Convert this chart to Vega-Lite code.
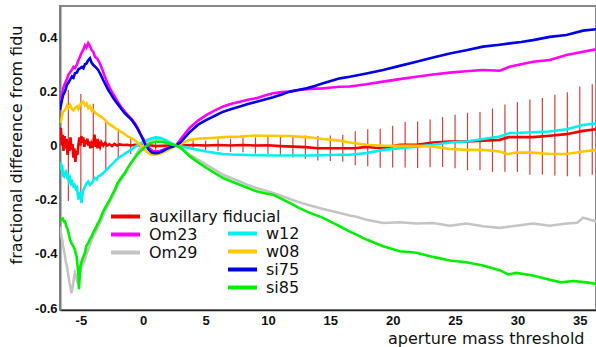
{
  "$schema": "https://vega.github.io/schema/vega-lite/v6.json",
  "width": 536,
  "height": 304,
  "autosize": {"type": "none"},
  "padding": {"left": 60, "top": 6, "right": 0, "bottom": 37},
  "background": "white",
  "config": {
    "view": {"stroke": "#888888", "strokeWidth": 2},
    "axis": {"grid": false, "labelFont": "Liberation Sans", "labelFontWeight": "bold", "labelFontSize": 13, "labelColor": "#111", "titleFont": "DejaVu Sans", "titleFontWeight": "normal", "titleFontSize": 16, "titleColor": "#111"},
    "legend": {"orient": "none", "title": null, "symbolType": "M-2,0H2", "symbolSize": 210, "symbolStrokeWidth": 4, "labelFont": "DejaVu Sans", "labelFontSize": 16, "labelColor": "#111", "labelOffset": 14, "rowPadding": 0, "padding": 0, "labelLimit": 400}
  },
  "datasets": {
    "curves": [
      {"series": "auxillary fiducial", "x": -6.67, "y": 0.02},
      {"series": "auxillary fiducial", "x": -6.6, "y": 0.065},
      {"series": "auxillary fiducial", "x": -6.53, "y": 0.0},
      {"series": "auxillary fiducial", "x": -6.45, "y": 0.04},
      {"series": "auxillary fiducial", "x": -6.39, "y": -0.02},
      {"series": "auxillary fiducial", "x": -6.3, "y": 0.035},
      {"series": "auxillary fiducial", "x": -6.22, "y": -0.01},
      {"series": "auxillary fiducial", "x": -6.14, "y": 0.025},
      {"series": "auxillary fiducial", "x": -6.06, "y": -0.035},
      {"series": "auxillary fiducial", "x": -5.99, "y": 0.015},
      {"series": "auxillary fiducial", "x": -5.91, "y": -0.02},
      {"series": "auxillary fiducial", "x": -5.83, "y": 0.03},
      {"series": "auxillary fiducial", "x": -5.75, "y": -0.015},
      {"series": "auxillary fiducial", "x": -5.67, "y": 0.005},
      {"series": "auxillary fiducial", "x": -5.6, "y": -0.045},
      {"series": "auxillary fiducial", "x": -5.52, "y": -0.01},
      {"series": "auxillary fiducial", "x": -5.44, "y": -0.06},
      {"series": "auxillary fiducial", "x": -5.36, "y": -0.02},
      {"series": "auxillary fiducial", "x": -5.28, "y": -0.035},
      {"series": "auxillary fiducial", "x": -5.2, "y": 0.0},
      {"series": "auxillary fiducial", "x": -5.12, "y": 0.03},
      {"series": "auxillary fiducial", "x": -5.04, "y": 0.0},
      {"series": "auxillary fiducial", "x": -4.96, "y": 0.035},
      {"series": "auxillary fiducial", "x": -4.88, "y": 0.01},
      {"series": "auxillary fiducial", "x": -4.8, "y": 0.03},
      {"series": "auxillary fiducial", "x": -4.72, "y": -0.005},
      {"series": "auxillary fiducial", "x": -4.64, "y": 0.02},
      {"series": "auxillary fiducial", "x": -4.56, "y": 0.005},
      {"series": "auxillary fiducial", "x": -4.48, "y": 0.025},
      {"series": "auxillary fiducial", "x": -4.4, "y": 0.0},
      {"series": "auxillary fiducial", "x": -4.32, "y": 0.015},
      {"series": "auxillary fiducial", "x": -4.24, "y": -0.01},
      {"series": "auxillary fiducial", "x": -4.16, "y": 0.005},
      {"series": "auxillary fiducial", "x": -4.08, "y": -0.008},
      {"series": "auxillary fiducial", "x": -4.0, "y": 0.01},
      {"series": "auxillary fiducial", "x": -3.9, "y": 0.04},
      {"series": "auxillary fiducial", "x": -3.82, "y": -0.005},
      {"series": "auxillary fiducial", "x": -3.74, "y": 0.025},
      {"series": "auxillary fiducial", "x": -3.66, "y": -0.01},
      {"series": "auxillary fiducial", "x": -3.56, "y": 0.01},
      {"series": "auxillary fiducial", "x": -3.46, "y": -0.005},
      {"series": "auxillary fiducial", "x": -3.36, "y": 0.012},
      {"series": "auxillary fiducial", "x": -3.2, "y": 0.0},
      {"series": "auxillary fiducial", "x": -3.05, "y": 0.01},
      {"series": "auxillary fiducial", "x": -2.9, "y": 0.0},
      {"series": "auxillary fiducial", "x": -2.7, "y": 0.005},
      {"series": "auxillary fiducial", "x": -2.5, "y": -0.002},
      {"series": "auxillary fiducial", "x": -2.3, "y": 0.006},
      {"series": "auxillary fiducial", "x": -2.1, "y": 0.0},
      {"series": "auxillary fiducial", "x": -1.9, "y": 0.004},
      {"series": "auxillary fiducial", "x": -1.6, "y": 0.002},
      {"series": "auxillary fiducial", "x": -1.3, "y": 0.003},
      {"series": "auxillary fiducial", "x": -1.0, "y": 0.0},
      {"series": "auxillary fiducial", "x": -0.6, "y": 0.003},
      {"series": "auxillary fiducial", "x": -0.2, "y": 0.0},
      {"series": "auxillary fiducial", "x": 0.4, "y": 0.002},
      {"series": "auxillary fiducial", "x": 1.0, "y": -0.002},
      {"series": "auxillary fiducial", "x": 2.0, "y": 0.0},
      {"series": "auxillary fiducial", "x": 3.0, "y": 0.0},
      {"series": "auxillary fiducial", "x": 4.0, "y": 0.002},
      {"series": "auxillary fiducial", "x": 5.0, "y": 0.0},
      {"series": "auxillary fiducial", "x": 6.0, "y": 0.002},
      {"series": "auxillary fiducial", "x": 7.0, "y": 0.0},
      {"series": "auxillary fiducial", "x": 8.0, "y": 0.002},
      {"series": "auxillary fiducial", "x": 9.0, "y": 0.0},
      {"series": "auxillary fiducial", "x": 10.0, "y": 0.001},
      {"series": "auxillary fiducial", "x": 11.0, "y": -0.002},
      {"series": "auxillary fiducial", "x": 12.0, "y": -0.004},
      {"series": "auxillary fiducial", "x": 13.0, "y": -0.006},
      {"series": "auxillary fiducial", "x": 14.0, "y": -0.01},
      {"series": "auxillary fiducial", "x": 15.0, "y": -0.01},
      {"series": "auxillary fiducial", "x": 16.0, "y": -0.01},
      {"series": "auxillary fiducial", "x": 17.0, "y": -0.01},
      {"series": "auxillary fiducial", "x": 17.9, "y": -0.005},
      {"series": "auxillary fiducial", "x": 18.6, "y": -0.008},
      {"series": "auxillary fiducial", "x": 19.23, "y": -0.01},
      {"series": "auxillary fiducial", "x": 20.0, "y": -0.002},
      {"series": "auxillary fiducial", "x": 20.56, "y": 0.003},
      {"series": "auxillary fiducial", "x": 21.9, "y": 0.003},
      {"series": "auxillary fiducial", "x": 23.24, "y": 0.011},
      {"series": "auxillary fiducial", "x": 24.58, "y": 0.015},
      {"series": "auxillary fiducial", "x": 25.9, "y": 0.015},
      {"series": "auxillary fiducial", "x": 27.24, "y": 0.018},
      {"series": "auxillary fiducial", "x": 28.58, "y": 0.021},
      {"series": "auxillary fiducial", "x": 29.3, "y": 0.031},
      {"series": "auxillary fiducial", "x": 29.9, "y": 0.031},
      {"series": "auxillary fiducial", "x": 31.25, "y": 0.031},
      {"series": "auxillary fiducial", "x": 32.59, "y": 0.036},
      {"series": "auxillary fiducial", "x": 33.93, "y": 0.042},
      {"series": "auxillary fiducial", "x": 35.26, "y": 0.054},
      {"series": "auxillary fiducial", "x": 36.3, "y": 0.06},

      {"series": "Om23", "x": -6.67, "y": 0.162},
      {"series": "Om23", "x": -6.51, "y": 0.19},
      {"series": "Om23", "x": -6.39, "y": 0.215},
      {"series": "Om23", "x": -6.27, "y": 0.23},
      {"series": "Om23", "x": -6.11, "y": 0.245},
      {"series": "Om23", "x": -5.99, "y": 0.262},
      {"series": "Om23", "x": -5.87, "y": 0.27},
      {"series": "Om23", "x": -5.71, "y": 0.28},
      {"series": "Om23", "x": -5.59, "y": 0.29},
      {"series": "Om23", "x": -5.47, "y": 0.286},
      {"series": "Om23", "x": -5.31, "y": 0.3},
      {"series": "Om23", "x": -5.19, "y": 0.315},
      {"series": "Om23", "x": -5.07, "y": 0.328},
      {"series": "Om23", "x": -4.91, "y": 0.345},
      {"series": "Om23", "x": -4.79, "y": 0.355},
      {"series": "Om23", "x": -4.67, "y": 0.37},
      {"series": "Om23", "x": -4.55, "y": 0.362},
      {"series": "Om23", "x": -4.41, "y": 0.378},
      {"series": "Om23", "x": -4.27, "y": 0.368},
      {"series": "Om23", "x": -4.13, "y": 0.352},
      {"series": "Om23", "x": -3.99, "y": 0.345},
      {"series": "Om23", "x": -3.87, "y": 0.328},
      {"series": "Om23", "x": -3.67, "y": 0.32},
      {"series": "Om23", "x": -3.47, "y": 0.303},
      {"series": "Om23", "x": -3.27, "y": 0.28},
      {"series": "Om23", "x": -3.07, "y": 0.254},
      {"series": "Om23", "x": -2.87, "y": 0.232},
      {"series": "Om23", "x": -2.67, "y": 0.211},
      {"series": "Om23", "x": -2.47, "y": 0.195},
      {"series": "Om23", "x": -2.27, "y": 0.18},
      {"series": "Om23", "x": -2.07, "y": 0.163},
      {"series": "Om23", "x": -1.87, "y": 0.15},
      {"series": "Om23", "x": -1.67, "y": 0.136},
      {"series": "Om23", "x": -1.47, "y": 0.125},
      {"series": "Om23", "x": -1.27, "y": 0.114},
      {"series": "Om23", "x": -1.07, "y": 0.105},
      {"series": "Om23", "x": -0.87, "y": 0.094},
      {"series": "Om23", "x": -0.67, "y": 0.082},
      {"series": "Om23", "x": -0.46, "y": 0.066},
      {"series": "Om23", "x": -0.26, "y": 0.046},
      {"series": "Om23", "x": -0.06, "y": 0.03},
      {"series": "Om23", "x": 0.14, "y": 0.015},
      {"series": "Om23", "x": 0.34, "y": 0.0},
      {"series": "Om23", "x": 0.54, "y": -0.012},
      {"series": "Om23", "x": 0.78, "y": -0.02},
      {"series": "Om23", "x": 1.02, "y": -0.022},
      {"series": "Om23", "x": 1.34, "y": -0.02},
      {"series": "Om23", "x": 1.74, "y": -0.013},
      {"series": "Om23", "x": 2.14, "y": -0.006},
      {"series": "Om23", "x": 2.62, "y": 0.0},
      {"series": "Om23", "x": 3.2, "y": 0.035},
      {"series": "Om23", "x": 3.74, "y": 0.066},
      {"series": "Om23", "x": 4.4, "y": 0.092},
      {"series": "Om23", "x": 5.08, "y": 0.113},
      {"series": "Om23", "x": 5.75, "y": 0.13},
      {"series": "Om23", "x": 6.41, "y": 0.144},
      {"series": "Om23", "x": 7.08, "y": 0.154},
      {"series": "Om23", "x": 7.75, "y": 0.162},
      {"series": "Om23", "x": 8.4, "y": 0.169},
      {"series": "Om23", "x": 9.09, "y": 0.175},
      {"series": "Om23", "x": 9.75, "y": 0.185},
      {"series": "Om23", "x": 10.42, "y": 0.193},
      {"series": "Om23", "x": 11.1, "y": 0.197},
      {"series": "Om23", "x": 11.75, "y": 0.199},
      {"series": "Om23", "x": 12.4, "y": 0.204},
      {"series": "Om23", "x": 13.09, "y": 0.208},
      {"series": "Om23", "x": 13.75, "y": 0.21},
      {"series": "Om23", "x": 14.42, "y": 0.211},
      {"series": "Om23", "x": 15.1, "y": 0.214},
      {"series": "Om23", "x": 15.76, "y": 0.217},
      {"series": "Om23", "x": 16.56, "y": 0.218},
      {"series": "Om23", "x": 17.9, "y": 0.226},
      {"series": "Om23", "x": 19.23, "y": 0.236},
      {"series": "Om23", "x": 20.56, "y": 0.245},
      {"series": "Om23", "x": 21.9, "y": 0.254},
      {"series": "Om23", "x": 23.24, "y": 0.262},
      {"series": "Om23", "x": 24.58, "y": 0.269},
      {"series": "Om23", "x": 25.9, "y": 0.274},
      {"series": "Om23", "x": 27.24, "y": 0.279},
      {"series": "Om23", "x": 28.58, "y": 0.276},
      {"series": "Om23", "x": 29.38, "y": 0.291},
      {"series": "Om23", "x": 30.3, "y": 0.3},
      {"series": "Om23", "x": 31.25, "y": 0.309},
      {"series": "Om23", "x": 32.59, "y": 0.316},
      {"series": "Om23", "x": 33.93, "y": 0.334},
      {"series": "Om23", "x": 35.26, "y": 0.346},
      {"series": "Om23", "x": 36.3, "y": 0.355},

      {"series": "Om29", "x": -6.67, "y": -0.3},
      {"series": "Om29", "x": -6.6, "y": -0.32},
      {"series": "Om29", "x": -6.55, "y": -0.335},
      {"series": "Om29", "x": -6.45, "y": -0.36},
      {"series": "Om29", "x": -6.37, "y": -0.384},
      {"series": "Om29", "x": -6.3, "y": -0.4},
      {"series": "Om29", "x": -6.2, "y": -0.43},
      {"series": "Om29", "x": -6.11, "y": -0.446},
      {"series": "Om29", "x": -6.0, "y": -0.48},
      {"series": "Om29", "x": -5.9, "y": -0.507},
      {"series": "Om29", "x": -5.8, "y": -0.53},
      {"series": "Om29", "x": -5.75, "y": -0.545},
      {"series": "Om29", "x": -5.65, "y": -0.52},
      {"series": "Om29", "x": -5.55, "y": -0.49},
      {"series": "Om29", "x": -5.47, "y": -0.47},
      {"series": "Om29", "x": -5.38, "y": -0.48},
      {"series": "Om29", "x": -5.3, "y": -0.5},
      {"series": "Om29", "x": -5.2, "y": -0.51},
      {"series": "Om29", "x": -5.1, "y": -0.48},
      {"series": "Om29", "x": -5.0, "y": -0.458},
      {"series": "Om29", "x": -4.9, "y": -0.445},
      {"series": "Om29", "x": -4.8, "y": -0.435},
      {"series": "Om29", "x": -4.67, "y": -0.421},
      {"series": "Om29", "x": -4.55, "y": -0.4},
      {"series": "Om29", "x": -4.41, "y": -0.384},
      {"series": "Om29", "x": -4.27, "y": -0.365},
      {"series": "Om29", "x": -4.13, "y": -0.347},
      {"series": "Om29", "x": -4.0, "y": -0.335},
      {"series": "Om29", "x": -3.87, "y": -0.323},
      {"series": "Om29", "x": -3.67, "y": -0.305},
      {"series": "Om29", "x": -3.47, "y": -0.286},
      {"series": "Om29", "x": -3.27, "y": -0.265},
      {"series": "Om29", "x": -3.07, "y": -0.243},
      {"series": "Om29", "x": -2.87, "y": -0.225},
      {"series": "Om29", "x": -2.67, "y": -0.206},
      {"series": "Om29", "x": -2.47, "y": -0.19},
      {"series": "Om29", "x": -2.27, "y": -0.169},
      {"series": "Om29", "x": -2.07, "y": -0.15},
      {"series": "Om29", "x": -1.87, "y": -0.133},
      {"series": "Om29", "x": -1.67, "y": -0.118},
      {"series": "Om29", "x": -1.47, "y": -0.102},
      {"series": "Om29", "x": -1.27, "y": -0.086},
      {"series": "Om29", "x": -1.07, "y": -0.071},
      {"series": "Om29", "x": -0.87, "y": -0.056},
      {"series": "Om29", "x": -0.67, "y": -0.04},
      {"series": "Om29", "x": -0.46, "y": -0.025},
      {"series": "Om29", "x": -0.26, "y": -0.01},
      {"series": "Om29", "x": 0.14, "y": 0.005},
      {"series": "Om29", "x": 0.54, "y": 0.018},
      {"series": "Om29", "x": 0.94, "y": 0.025},
      {"series": "Om29", "x": 1.34, "y": 0.026},
      {"series": "Om29", "x": 1.74, "y": 0.02},
      {"series": "Om29", "x": 2.14, "y": 0.01},
      {"series": "Om29", "x": 2.62, "y": 0.0},
      {"series": "Om29", "x": 3.0, "y": -0.008},
      {"series": "Om29", "x": 3.74, "y": -0.034},
      {"series": "Om29", "x": 4.4, "y": -0.052},
      {"series": "Om29", "x": 5.08, "y": -0.071},
      {"series": "Om29", "x": 5.75, "y": -0.09},
      {"series": "Om29", "x": 6.41, "y": -0.108},
      {"series": "Om29", "x": 7.08, "y": -0.121},
      {"series": "Om29", "x": 7.75, "y": -0.133},
      {"series": "Om29", "x": 8.4, "y": -0.146},
      {"series": "Om29", "x": 9.09, "y": -0.157},
      {"series": "Om29", "x": 9.75, "y": -0.166},
      {"series": "Om29", "x": 10.42, "y": -0.175},
      {"series": "Om29", "x": 11.1, "y": -0.186},
      {"series": "Om29", "x": 11.75, "y": -0.197},
      {"series": "Om29", "x": 12.4, "y": -0.208},
      {"series": "Om29", "x": 13.09, "y": -0.218},
      {"series": "Om29", "x": 13.75, "y": -0.226},
      {"series": "Om29", "x": 14.42, "y": -0.234},
      {"series": "Om29", "x": 15.1, "y": -0.242},
      {"series": "Om29", "x": 15.76, "y": -0.249},
      {"series": "Om29", "x": 16.56, "y": -0.258},
      {"series": "Om29", "x": 17.1, "y": -0.263},
      {"series": "Om29", "x": 17.9, "y": -0.274},
      {"series": "Om29", "x": 19.23, "y": -0.286},
      {"series": "Om29", "x": 20.56, "y": -0.283},
      {"series": "Om29", "x": 21.9, "y": -0.288},
      {"series": "Om29", "x": 23.24, "y": -0.286},
      {"series": "Om29", "x": 24.58, "y": -0.296},
      {"series": "Om29", "x": 25.9, "y": -0.288},
      {"series": "Om29", "x": 27.24, "y": -0.298},
      {"series": "Om29", "x": 28.58, "y": -0.304},
      {"series": "Om29", "x": 29.9, "y": -0.296},
      {"series": "Om29", "x": 31.25, "y": -0.288},
      {"series": "Om29", "x": 32.59, "y": -0.296},
      {"series": "Om29", "x": 33.93, "y": -0.288},
      {"series": "Om29", "x": 34.8, "y": -0.285},
      {"series": "Om29", "x": 35.26, "y": -0.266},
      {"series": "Om29", "x": 35.7, "y": -0.272},
      {"series": "Om29", "x": 36.3, "y": -0.28},

      {"series": "w12", "x": -6.67, "y": -0.06},
      {"series": "w12", "x": -6.6, "y": -0.09},
      {"series": "w12", "x": -6.5, "y": -0.07},
      {"series": "w12", "x": -6.43, "y": -0.11},
      {"series": "w12", "x": -6.35, "y": -0.114},
      {"series": "w12", "x": -6.27, "y": -0.1},
      {"series": "w12", "x": -6.19, "y": -0.096},
      {"series": "w12", "x": -6.11, "y": -0.115},
      {"series": "w12", "x": -6.03, "y": -0.11},
      {"series": "w12", "x": -5.95, "y": -0.13},
      {"series": "w12", "x": -5.87, "y": -0.12},
      {"series": "w12", "x": -5.79, "y": -0.14},
      {"series": "w12", "x": -5.71, "y": -0.133},
      {"series": "w12", "x": -5.6, "y": -0.15},
      {"series": "w12", "x": -5.5, "y": -0.145},
      {"series": "w12", "x": -5.4, "y": -0.16},
      {"series": "w12", "x": -5.3, "y": -0.155},
      {"series": "w12", "x": -5.2, "y": -0.2},
      {"series": "w12", "x": -5.15, "y": -0.175},
      {"series": "w12", "x": -5.07, "y": -0.175},
      {"series": "w12", "x": -5.0, "y": -0.19},
      {"series": "w12", "x": -4.94, "y": -0.212},
      {"series": "w12", "x": -4.87, "y": -0.18},
      {"series": "w12", "x": -4.8, "y": -0.165},
      {"series": "w12", "x": -4.67, "y": -0.151},
      {"series": "w12", "x": -4.55, "y": -0.14},
      {"series": "w12", "x": -4.41, "y": -0.133},
      {"series": "w12", "x": -4.27, "y": -0.145},
      {"series": "w12", "x": -4.13, "y": -0.139},
      {"series": "w12", "x": -4.0, "y": -0.128},
      {"series": "w12", "x": -3.87, "y": -0.12},
      {"series": "w12", "x": -3.73, "y": -0.125},
      {"series": "w12", "x": -3.61, "y": -0.114},
      {"series": "w12", "x": -3.45, "y": -0.11},
      {"series": "w12", "x": -3.21, "y": -0.102},
      {"series": "w12", "x": -3.0, "y": -0.092},
      {"series": "w12", "x": -2.8, "y": -0.083},
      {"series": "w12", "x": -2.6, "y": -0.073},
      {"series": "w12", "x": -2.4, "y": -0.065},
      {"series": "w12", "x": -2.2, "y": -0.055},
      {"series": "w12", "x": -2.0, "y": -0.046},
      {"series": "w12", "x": -1.8, "y": -0.04},
      {"series": "w12", "x": -1.6, "y": -0.034},
      {"series": "w12", "x": -1.4, "y": -0.028},
      {"series": "w12", "x": -1.2, "y": -0.022},
      {"series": "w12", "x": -1.0, "y": -0.016},
      {"series": "w12", "x": -0.8, "y": -0.01},
      {"series": "w12", "x": -0.4, "y": 0.003},
      {"series": "w12", "x": 0.0, "y": 0.013},
      {"series": "w12", "x": 0.5, "y": 0.024},
      {"series": "w12", "x": 1.0, "y": 0.03},
      {"series": "w12", "x": 1.4, "y": 0.028},
      {"series": "w12", "x": 1.8, "y": 0.02},
      {"series": "w12", "x": 2.2, "y": 0.01},
      {"series": "w12", "x": 2.62, "y": 0.0},
      {"series": "w12", "x": 3.0, "y": -0.003},
      {"series": "w12", "x": 3.74, "y": -0.01},
      {"series": "w12", "x": 4.4, "y": -0.016},
      {"series": "w12", "x": 5.08, "y": -0.022},
      {"series": "w12", "x": 5.75, "y": -0.027},
      {"series": "w12", "x": 6.41, "y": -0.031},
      {"series": "w12", "x": 7.08, "y": -0.033},
      {"series": "w12", "x": 7.75, "y": -0.034},
      {"series": "w12", "x": 9.09, "y": -0.036},
      {"series": "w12", "x": 10.42, "y": -0.037},
      {"series": "w12", "x": 11.75, "y": -0.037},
      {"series": "w12", "x": 13.09, "y": -0.037},
      {"series": "w12", "x": 14.42, "y": -0.036},
      {"series": "w12", "x": 15.76, "y": -0.034},
      {"series": "w12", "x": 16.56, "y": -0.034},
      {"series": "w12", "x": 17.9, "y": -0.028},
      {"series": "w12", "x": 19.23, "y": -0.016},
      {"series": "w12", "x": 20.56, "y": -0.01},
      {"series": "w12", "x": 21.9, "y": -0.004},
      {"series": "w12", "x": 23.24, "y": 0.003},
      {"series": "w12", "x": 24.58, "y": 0.011},
      {"series": "w12", "x": 25.9, "y": 0.015},
      {"series": "w12", "x": 27.24, "y": 0.024},
      {"series": "w12", "x": 28.58, "y": 0.033},
      {"series": "w12", "x": 29.38, "y": 0.046},
      {"series": "w12", "x": 29.9, "y": 0.046},
      {"series": "w12", "x": 31.25, "y": 0.049},
      {"series": "w12", "x": 32.59, "y": 0.052},
      {"series": "w12", "x": 33.93, "y": 0.06},
      {"series": "w12", "x": 35.26, "y": 0.076},
      {"series": "w12", "x": 36.3, "y": 0.082},

      {"series": "w08", "x": -6.67, "y": 0.083},
      {"series": "w08", "x": -6.55, "y": 0.1},
      {"series": "w08", "x": -6.43, "y": 0.125},
      {"series": "w08", "x": -6.27, "y": 0.131},
      {"series": "w08", "x": -6.11, "y": 0.148},
      {"series": "w08", "x": -5.99, "y": 0.14},
      {"series": "w08", "x": -5.87, "y": 0.15},
      {"series": "w08", "x": -5.71, "y": 0.135},
      {"series": "w08", "x": -5.59, "y": 0.13},
      {"series": "w08", "x": -5.47, "y": 0.138},
      {"series": "w08", "x": -5.31, "y": 0.145},
      {"series": "w08", "x": -5.19, "y": 0.135},
      {"series": "w08", "x": -5.07, "y": 0.15},
      {"series": "w08", "x": -4.94, "y": 0.158},
      {"series": "w08", "x": -4.81, "y": 0.162},
      {"series": "w08", "x": -4.67, "y": 0.148},
      {"series": "w08", "x": -4.54, "y": 0.155},
      {"series": "w08", "x": -4.41, "y": 0.138},
      {"series": "w08", "x": -4.27, "y": 0.145},
      {"series": "w08", "x": -4.13, "y": 0.128},
      {"series": "w08", "x": -4.0, "y": 0.131},
      {"series": "w08", "x": -3.83, "y": 0.12},
      {"series": "w08", "x": -3.61, "y": 0.113},
      {"series": "w08", "x": -3.43, "y": 0.108},
      {"series": "w08", "x": -3.21, "y": 0.101},
      {"series": "w08", "x": -2.99, "y": 0.09},
      {"series": "w08", "x": -2.8, "y": 0.082},
      {"series": "w08", "x": -2.59, "y": 0.075},
      {"series": "w08", "x": -2.4, "y": 0.07},
      {"series": "w08", "x": -2.19, "y": 0.062},
      {"series": "w08", "x": -1.99, "y": 0.058},
      {"series": "w08", "x": -1.79, "y": 0.05},
      {"series": "w08", "x": -1.6, "y": 0.046},
      {"series": "w08", "x": -1.39, "y": 0.038},
      {"series": "w08", "x": -1.2, "y": 0.033},
      {"series": "w08", "x": -0.99, "y": 0.028},
      {"series": "w08", "x": -0.8, "y": 0.024},
      {"series": "w08", "x": -0.58, "y": 0.016},
      {"series": "w08", "x": -0.4, "y": 0.009},
      {"series": "w08", "x": -0.18, "y": 0.0},
      {"series": "w08", "x": 0.06, "y": -0.012},
      {"series": "w08", "x": 0.3, "y": -0.024},
      {"series": "w08", "x": 0.54, "y": -0.031},
      {"series": "w08", "x": 0.78, "y": -0.034},
      {"series": "w08", "x": 1.1, "y": -0.033},
      {"series": "w08", "x": 1.42, "y": -0.029},
      {"series": "w08", "x": 1.74, "y": -0.022},
      {"series": "w08", "x": 2.14, "y": -0.012},
      {"series": "w08", "x": 2.62, "y": 0.0},
      {"series": "w08", "x": 3.0, "y": 0.006},
      {"series": "w08", "x": 3.74, "y": 0.021},
      {"series": "w08", "x": 4.4, "y": 0.025},
      {"series": "w08", "x": 5.08, "y": 0.027},
      {"series": "w08", "x": 5.75, "y": 0.029},
      {"series": "w08", "x": 6.41, "y": 0.031},
      {"series": "w08", "x": 7.08, "y": 0.032},
      {"series": "w08", "x": 7.75, "y": 0.033},
      {"series": "w08", "x": 8.4, "y": 0.035},
      {"series": "w08", "x": 9.09, "y": 0.037},
      {"series": "w08", "x": 9.75, "y": 0.036},
      {"series": "w08", "x": 10.42, "y": 0.036},
      {"series": "w08", "x": 11.1, "y": 0.035},
      {"series": "w08", "x": 11.75, "y": 0.035},
      {"series": "w08", "x": 12.4, "y": 0.033},
      {"series": "w08", "x": 13.09, "y": 0.031},
      {"series": "w08", "x": 13.75, "y": 0.028},
      {"series": "w08", "x": 14.42, "y": 0.024},
      {"series": "w08", "x": 15.1, "y": 0.021},
      {"series": "w08", "x": 15.76, "y": 0.018},
      {"series": "w08", "x": 16.56, "y": 0.011},
      {"series": "w08", "x": 17.9, "y": 0.003},
      {"series": "w08", "x": 19.23, "y": -0.001},
      {"series": "w08", "x": 20.56, "y": -0.001},
      {"series": "w08", "x": 21.9, "y": -0.001},
      {"series": "w08", "x": 23.24, "y": -0.004},
      {"series": "w08", "x": 24.58, "y": -0.013},
      {"series": "w08", "x": 25.9, "y": -0.016},
      {"series": "w08", "x": 27.24, "y": -0.016},
      {"series": "w08", "x": 28.58, "y": -0.022},
      {"series": "w08", "x": 29.24, "y": -0.032},
      {"series": "w08", "x": 29.9, "y": -0.026},
      {"series": "w08", "x": 31.25, "y": -0.026},
      {"series": "w08", "x": 32.59, "y": -0.031},
      {"series": "w08", "x": 33.93, "y": -0.031},
      {"series": "w08", "x": 35.26, "y": -0.022},
      {"series": "w08", "x": 36.3, "y": -0.016},

      {"series": "si75", "x": -6.67, "y": 0.131},
      {"series": "si75", "x": -6.55, "y": 0.16},
      {"series": "si75", "x": -6.43, "y": 0.185},
      {"series": "si75", "x": -6.27, "y": 0.199},
      {"series": "si75", "x": -6.11, "y": 0.225},
      {"series": "si75", "x": -5.99, "y": 0.232},
      {"series": "si75", "x": -5.87, "y": 0.242},
      {"series": "si75", "x": -5.71, "y": 0.255},
      {"series": "si75", "x": -5.59, "y": 0.25},
      {"series": "si75", "x": -5.47, "y": 0.267},
      {"series": "si75", "x": -5.31, "y": 0.27},
      {"series": "si75", "x": -5.19, "y": 0.282},
      {"series": "si75", "x": -5.07, "y": 0.285},
      {"series": "si75", "x": -4.91, "y": 0.29},
      {"series": "si75", "x": -4.79, "y": 0.285},
      {"series": "si75", "x": -4.67, "y": 0.3},
      {"series": "si75", "x": -4.54, "y": 0.303},
      {"series": "si75", "x": -4.41, "y": 0.315},
      {"series": "si75", "x": -4.27, "y": 0.322},
      {"series": "si75", "x": -4.13, "y": 0.305},
      {"series": "si75", "x": -4.0, "y": 0.297},
      {"series": "si75", "x": -3.83, "y": 0.29},
      {"series": "si75", "x": -3.61, "y": 0.279},
      {"series": "si75", "x": -3.39, "y": 0.26},
      {"series": "si75", "x": -3.21, "y": 0.242},
      {"series": "si75", "x": -2.99, "y": 0.222},
      {"series": "si75", "x": -2.8, "y": 0.205},
      {"series": "si75", "x": -2.59, "y": 0.19},
      {"series": "si75", "x": -2.4, "y": 0.175},
      {"series": "si75", "x": -2.19, "y": 0.162},
      {"series": "si75", "x": -1.99, "y": 0.15},
      {"series": "si75", "x": -1.75, "y": 0.135},
      {"series": "si75", "x": -1.47, "y": 0.119},
      {"series": "si75", "x": -1.23, "y": 0.108},
      {"series": "si75", "x": -0.93, "y": 0.095},
      {"series": "si75", "x": -0.67, "y": 0.078},
      {"series": "si75", "x": -0.4, "y": 0.058},
      {"series": "si75", "x": -0.18, "y": 0.038},
      {"series": "si75", "x": 0.0, "y": 0.021},
      {"series": "si75", "x": 0.22, "y": 0.0},
      {"series": "si75", "x": 0.46, "y": -0.016},
      {"series": "si75", "x": 0.7, "y": -0.026},
      {"series": "si75", "x": 0.94, "y": -0.028},
      {"series": "si75", "x": 1.18, "y": -0.027},
      {"series": "si75", "x": 1.5, "y": -0.022},
      {"series": "si75", "x": 1.82, "y": -0.014},
      {"series": "si75", "x": 2.14, "y": -0.007},
      {"series": "si75", "x": 2.62, "y": 0.0},
      {"series": "si75", "x": 3.0, "y": 0.012},
      {"series": "si75", "x": 3.74, "y": 0.05},
      {"series": "si75", "x": 4.4, "y": 0.077},
      {"series": "si75", "x": 5.08, "y": 0.095},
      {"series": "si75", "x": 5.75, "y": 0.11},
      {"series": "si75", "x": 6.41, "y": 0.125},
      {"series": "si75", "x": 7.08, "y": 0.135},
      {"series": "si75", "x": 7.75, "y": 0.144},
      {"series": "si75", "x": 8.4, "y": 0.153},
      {"series": "si75", "x": 9.09, "y": 0.162},
      {"series": "si75", "x": 9.75, "y": 0.17},
      {"series": "si75", "x": 10.42, "y": 0.178},
      {"series": "si75", "x": 11.1, "y": 0.188},
      {"series": "si75", "x": 11.75, "y": 0.199},
      {"series": "si75", "x": 12.4, "y": 0.205},
      {"series": "si75", "x": 13.09, "y": 0.211},
      {"series": "si75", "x": 13.75, "y": 0.22},
      {"series": "si75", "x": 14.42, "y": 0.23},
      {"series": "si75", "x": 15.1, "y": 0.239},
      {"series": "si75", "x": 15.76, "y": 0.248},
      {"series": "si75", "x": 16.56, "y": 0.254},
      {"series": "si75", "x": 17.9, "y": 0.266},
      {"series": "si75", "x": 19.23, "y": 0.279},
      {"series": "si75", "x": 20.56, "y": 0.294},
      {"series": "si75", "x": 21.9, "y": 0.309},
      {"series": "si75", "x": 23.24, "y": 0.325},
      {"series": "si75", "x": 24.58, "y": 0.34},
      {"series": "si75", "x": 25.9, "y": 0.352},
      {"series": "si75", "x": 27.24, "y": 0.365},
      {"series": "si75", "x": 28.58, "y": 0.372},
      {"series": "si75", "x": 29.38, "y": 0.377},
      {"series": "si75", "x": 30.3, "y": 0.382},
      {"series": "si75", "x": 31.25, "y": 0.389},
      {"series": "si75", "x": 32.59, "y": 0.401},
      {"series": "si75", "x": 33.93, "y": 0.408},
      {"series": "si75", "x": 35.26, "y": 0.424},
      {"series": "si75", "x": 36.3, "y": 0.429},

      {"series": "si85", "x": -6.67, "y": -0.28},
      {"series": "si85", "x": -6.55, "y": -0.274},
      {"series": "si85", "x": -6.45, "y": -0.27},
      {"series": "si85", "x": -6.35, "y": -0.28},
      {"series": "si85", "x": -6.27, "y": -0.28},
      {"series": "si85", "x": -6.15, "y": -0.3},
      {"series": "si85", "x": -6.05, "y": -0.31},
      {"series": "si85", "x": -5.95, "y": -0.33},
      {"series": "si85", "x": -5.87, "y": -0.347},
      {"series": "si85", "x": -5.75, "y": -0.36},
      {"series": "si85", "x": -5.6, "y": -0.372},
      {"series": "si85", "x": -5.47, "y": -0.384},
      {"series": "si85", "x": -5.4, "y": -0.4},
      {"series": "si85", "x": -5.34, "y": -0.409},
      {"series": "si85", "x": -5.25, "y": -0.45},
      {"series": "si85", "x": -5.2, "y": -0.47},
      {"series": "si85", "x": -5.15, "y": -0.53},
      {"series": "si85", "x": -5.1, "y": -0.49},
      {"series": "si85", "x": -5.04, "y": -0.446},
      {"series": "si85", "x": -4.95, "y": -0.43},
      {"series": "si85", "x": -4.8, "y": -0.41},
      {"series": "si85", "x": -4.67, "y": -0.396},
      {"series": "si85", "x": -4.55, "y": -0.37},
      {"series": "si85", "x": -4.41, "y": -0.36},
      {"series": "si85", "x": -4.27, "y": -0.345},
      {"series": "si85", "x": -4.13, "y": -0.335},
      {"series": "si85", "x": -4.0, "y": -0.32},
      {"series": "si85", "x": -3.87, "y": -0.31},
      {"series": "si85", "x": -3.67, "y": -0.29},
      {"series": "si85", "x": -3.47, "y": -0.274},
      {"series": "si85", "x": -3.27, "y": -0.25},
      {"series": "si85", "x": -3.07, "y": -0.231},
      {"series": "si85", "x": -2.87, "y": -0.215},
      {"series": "si85", "x": -2.67, "y": -0.2},
      {"series": "si85", "x": -2.47, "y": -0.18},
      {"series": "si85", "x": -2.27, "y": -0.163},
      {"series": "si85", "x": -2.07, "y": -0.14},
      {"series": "si85", "x": -1.87, "y": -0.126},
      {"series": "si85", "x": -1.67, "y": -0.113},
      {"series": "si85", "x": -1.47, "y": -0.102},
      {"series": "si85", "x": -1.27, "y": -0.085},
      {"series": "si85", "x": -1.07, "y": -0.071},
      {"series": "si85", "x": -0.87, "y": -0.058},
      {"series": "si85", "x": -0.67, "y": -0.046},
      {"series": "si85", "x": -0.46, "y": -0.033},
      {"series": "si85", "x": -0.26, "y": -0.022},
      {"series": "si85", "x": 0.14, "y": -0.005},
      {"series": "si85", "x": 0.54, "y": 0.008},
      {"series": "si85", "x": 1.0, "y": 0.015},
      {"series": "si85", "x": 1.5, "y": 0.014},
      {"series": "si85", "x": 2.0, "y": 0.008},
      {"series": "si85", "x": 2.62, "y": 0.0},
      {"series": "si85", "x": 3.0, "y": -0.008},
      {"series": "si85", "x": 3.74, "y": -0.04},
      {"series": "si85", "x": 4.4, "y": -0.062},
      {"series": "si85", "x": 5.08, "y": -0.083},
      {"series": "si85", "x": 5.75, "y": -0.102},
      {"series": "si85", "x": 6.41, "y": -0.12},
      {"series": "si85", "x": 7.08, "y": -0.133},
      {"series": "si85", "x": 7.75, "y": -0.145},
      {"series": "si85", "x": 8.4, "y": -0.157},
      {"series": "si85", "x": 9.09, "y": -0.169},
      {"series": "si85", "x": 9.75, "y": -0.176},
      {"series": "si85", "x": 10.42, "y": -0.182},
      {"series": "si85", "x": 11.1, "y": -0.197},
      {"series": "si85", "x": 11.75, "y": -0.212},
      {"series": "si85", "x": 12.4, "y": -0.228},
      {"series": "si85", "x": 13.09, "y": -0.243},
      {"series": "si85", "x": 13.75, "y": -0.255},
      {"series": "si85", "x": 14.42, "y": -0.267},
      {"series": "si85", "x": 15.1, "y": -0.283},
      {"series": "si85", "x": 15.76, "y": -0.298},
      {"series": "si85", "x": 16.56, "y": -0.318},
      {"series": "si85", "x": 17.1, "y": -0.329},
      {"series": "si85", "x": 17.9, "y": -0.347},
      {"series": "si85", "x": 19.23, "y": -0.372},
      {"series": "si85", "x": 20.56, "y": -0.39},
      {"series": "si85", "x": 21.9, "y": -0.396},
      {"series": "si85", "x": 23.24, "y": -0.411},
      {"series": "si85", "x": 24.58, "y": -0.424},
      {"series": "si85", "x": 25.9, "y": -0.431},
      {"series": "si85", "x": 27.24, "y": -0.443},
      {"series": "si85", "x": 28.58, "y": -0.46},
      {"series": "si85", "x": 29.25, "y": -0.476},
      {"series": "si85", "x": 29.9, "y": -0.47},
      {"series": "si85", "x": 31.25, "y": -0.48},
      {"series": "si85", "x": 32.59, "y": -0.495},
      {"series": "si85", "x": 33.5, "y": -0.505},
      {"series": "si85", "x": 34.5, "y": -0.5},
      {"series": "si85", "x": 35.5, "y": -0.505},
      {"series": "si85", "x": 36.3, "y": -0.51}
    ],
    "fiducialErrors": [
      {"x": -6, "y": 0.0, "err": 0.205},
      {"x": -5, "y": 0.0, "err": 0.19},
      {"x": -4, "y": 0.01, "err": 0.144},
      {"x": -3, "y": 0.0, "err": 0.087},
      {"x": -2, "y": 0.004, "err": 0.052},
      {"x": -1, "y": 0.0, "err": 0.031},
      {"x": 0, "y": 0.0, "err": 0.018},
      {"x": 1, "y": -0.002, "err": 0.015},
      {"x": 2, "y": 0.0, "err": 0.015},
      {"x": 3, "y": 0.0, "err": 0.016},
      {"x": 4, "y": 0.002, "err": 0.017},
      {"x": 5, "y": 0.0, "err": 0.018},
      {"x": 6, "y": 0.002, "err": 0.021},
      {"x": 7, "y": 0.0, "err": 0.024},
      {"x": 8, "y": 0.002, "err": 0.027},
      {"x": 9, "y": 0.0, "err": 0.03},
      {"x": 10, "y": 0.001, "err": 0.033},
      {"x": 11, "y": -0.002, "err": 0.036},
      {"x": 12, "y": -0.004, "err": 0.04},
      {"x": 13, "y": -0.006, "err": 0.043},
      {"x": 14, "y": -0.01, "err": 0.045},
      {"x": 15, "y": -0.01, "err": 0.047},
      {"x": 16, "y": -0.01, "err": 0.05},
      {"x": 17, "y": -0.01, "err": 0.063},
      {"x": 18, "y": -0.008, "err": 0.068},
      {"x": 19, "y": -0.01, "err": 0.072},
      {"x": 20, "y": -0.004, "err": 0.077},
      {"x": 21, "y": 0.003, "err": 0.084},
      {"x": 22, "y": 0.003, "err": 0.086},
      {"x": 23, "y": 0.008, "err": 0.088},
      {"x": 24, "y": 0.013, "err": 0.092},
      {"x": 25, "y": 0.015, "err": 0.099},
      {"x": 26, "y": 0.015, "err": 0.106},
      {"x": 27, "y": 0.017, "err": 0.107},
      {"x": 28, "y": 0.02, "err": 0.117},
      {"x": 29, "y": 0.027, "err": 0.124},
      {"x": 30, "y": 0.031, "err": 0.129},
      {"x": 31, "y": 0.031, "err": 0.139},
      {"x": 32, "y": 0.034, "err": 0.141},
      {"x": 33, "y": 0.038, "err": 0.149},
      {"x": 34, "y": 0.042, "err": 0.155},
      {"x": 35, "y": 0.052, "err": 0.166},
      {"x": 36, "y": 0.059, "err": 0.167}
    ],
    "xMajorTicks": [{"x": -5}, {"x": 0}, {"x": 5}, {"x": 10}, {"x": 15}, {"x": 20}, {"x": 25}, {"x": 30}, {"x": 35}],
    "xMinorTicks": [{"x": -6}, {"x": -4}, {"x": -3}, {"x": -2}, {"x": -1}, {"x": 1}, {"x": 2}, {"x": 3}, {"x": 4}, {"x": 6}, {"x": 7}, {"x": 8}, {"x": 9}, {"x": 11}, {"x": 12}, {"x": 13}, {"x": 14}, {"x": 16}, {"x": 17}, {"x": 18}, {"x": 19}, {"x": 21}, {"x": 22}, {"x": 23}, {"x": 24}, {"x": 26}, {"x": 27}, {"x": 28}, {"x": 29}, {"x": 31}, {"x": 32}, {"x": 33}, {"x": 34}, {"x": 36}],
    "yMajorTicks": [{"y": -0.6}, {"y": -0.4}, {"y": -0.2}, {"y": 0}, {"y": 0.2}, {"y": 0.4}],
    "yMinorTicks": [{"y": -0.55}, {"y": -0.5}, {"y": -0.45}, {"y": -0.35}, {"y": -0.3}, {"y": -0.25}, {"y": -0.15}, {"y": -0.1}, {"y": -0.05}, {"y": 0.05}, {"y": 0.1}, {"y": 0.15}, {"y": 0.25}, {"y": 0.3}, {"y": 0.35}, {"y": 0.45}, {"y": 0.5}]
  },
  "encoding": {
    "x": {
      "field": "x", "type": "quantitative",
      "scale": {"domain": [-6.67, 36.3], "nice": false, "zero": false},
      "axis": {
        "title": "aperture mass threshold",
        "values": [-5, 0, 5, 10, 15, 20, 25, 30, 35],
        "labelExpr": "toString(datum.value)",
        "ticks": false,
        "labelPadding": 4,
        "labelFlush": false,
        "labelOverlap": false,
        "domainColor": "#222", "domainWidth": 1.5,
        "titleAnchor": "end", "titleAlign": "right", "titleBaseline": "alphabetic",
        "titleX": 524, "titleY": 33
      }
    },
    "y": {
      "field": "y", "type": "quantitative",
      "scale": {"domain": [-0.607, 0.515], "nice": false, "zero": false},
      "axis": {
        "title": "fractional difference from fidu",
        "values": [-0.6, -0.4, -0.2, 0, 0.2, 0.4],
        "labelExpr": "toString(datum.value)",
        "ticks": false,
        "labelPadding": 3,
        "labelFlush": false,
        "labelOverlap": false,
        "domainColor": "#777", "domainWidth": 2,
        "titleAngle": 270, "titleAlign": "right", "titleBaseline": "middle",
        "titleX": -44, "titleY": 19
      }
    }
  },
  "layer": [
    {
      "data": {"name": "fiducialErrors"},
      "mark": {"type": "errorbar", "color": "#cc2a2a", "thickness": 1.2, "opacity": 0.9, "clip": true},
      "encoding": {"yError": {"field": "err"}}
    },
    {
      "data": {"name": "curves"},
      "transform": [{"filter": "indexof(['auxillary fiducial','Om23','Om29'], datum.series) >= 0"}],
      "mark": {"type": "line", "strokeWidth": 2.6, "clip": true},
      "encoding": {
        "color": {
          "field": "series", "type": "nominal",
          "scale": {"domain": ["auxillary fiducial", "Om23", "Om29"], "range": ["#f00000", "#ff00ff", "#c4c4c4"]},
          "legend": {"legendX": 56, "legendY": 201}
        }
      }
    },
    {
      "data": {"name": "curves"},
      "transform": [{"filter": "indexof(['w12','w08','si75','si85'], datum.series) >= 0"}],
      "mark": {"type": "line", "strokeWidth": 2.6, "clip": true},
      "encoding": {
        "color": {
          "field": "series", "type": "nominal",
          "scale": {"domain": ["w12", "w08", "si75", "si85"], "range": ["#00f0f0", "#ffc800", "#0000e8", "#00ee00"]},
          "legend": {"legendX": 173, "legendY": 218}
        }
      }
    },
    {
      "data": {"name": "xMajorTicks"},
      "mark": {"type": "rule", "color": "#111", "strokeWidth": 1.3},
      "encoding": {
        "y": {
          "datum": -0.607, "type": "quantitative",
          "scale": {"domain": [-0.607, 0.515], "nice": false, "zero": false},
          "axis": {"title": "fractional difference from fidu", "values": [-0.6, -0.4, -0.2, 0, 0.2, 0.4], "labelExpr": "toString(datum.value)", "ticks": false, "labelPadding": 3, "labelFlush": false, "labelOverlap": false, "domainColor": "#777", "domainWidth": 2, "titleAngle": 270, "titleAlign": "right", "titleBaseline": "middle", "titleX": -44, "titleY": 19}
        },
        "y2": {"datum": -0.5701}
      }
    },
    {
      "data": {"name": "xMinorTicks"},
      "mark": {"type": "rule", "color": "#111", "strokeWidth": 1.2},
      "encoding": {
        "y": {
          "datum": -0.607, "type": "quantitative",
          "scale": {"domain": [-0.607, 0.515], "nice": false, "zero": false},
          "axis": {"title": "fractional difference from fidu", "values": [-0.6, -0.4, -0.2, 0, 0.2, 0.4], "labelExpr": "toString(datum.value)", "ticks": false, "labelPadding": 3, "labelFlush": false, "labelOverlap": false, "domainColor": "#777", "domainWidth": 2, "titleAngle": 270, "titleAlign": "right", "titleBaseline": "middle", "titleX": -44, "titleY": 19}
        },
        "y2": {"datum": -0.5885}
      }
    },
    {
      "data": {"name": "yMajorTicks"},
      "mark": {"type": "rule", "color": "#111", "strokeWidth": 1.3},
      "encoding": {
        "x": {
          "datum": -6.67, "type": "quantitative",
          "scale": {"domain": [-6.67, 36.3], "nice": false, "zero": false},
          "axis": {"title": "aperture mass threshold", "values": [-5, 0, 5, 10, 15, 20, 25, 30, 35], "labelExpr": "toString(datum.value)", "ticks": false, "labelPadding": 4, "labelFlush": false, "labelOverlap": false, "domainColor": "#222", "domainWidth": 1.5, "titleAnchor": "end", "titleAlign": "right", "titleBaseline": "alphabetic", "titleX": 524, "titleY": 33}
        },
        "x2": {"datum": -5.788}
      }
    },
    {
      "data": {"name": "yMinorTicks"},
      "mark": {"type": "rule", "color": "#111", "strokeWidth": 1.2},
      "encoding": {
        "x": {
          "datum": -6.67, "type": "quantitative",
          "scale": {"domain": [-6.67, 36.3], "nice": false, "zero": false},
          "axis": {"title": "aperture mass threshold", "values": [-5, 0, 5, 10, 15, 20, 25, 30, 35], "labelExpr": "toString(datum.value)", "ticks": false, "labelPadding": 4, "labelFlush": false, "labelOverlap": false, "domainColor": "#222", "domainWidth": 1.5, "titleAnchor": "end", "titleAlign": "right", "titleBaseline": "alphabetic", "titleX": 524, "titleY": 33}
        },
        "x2": {"datum": -6.189}
      }
    }
  ],
  "resolve": {"scale": {"color": "independent"}, "legend": {"color": "independent"}}
}
